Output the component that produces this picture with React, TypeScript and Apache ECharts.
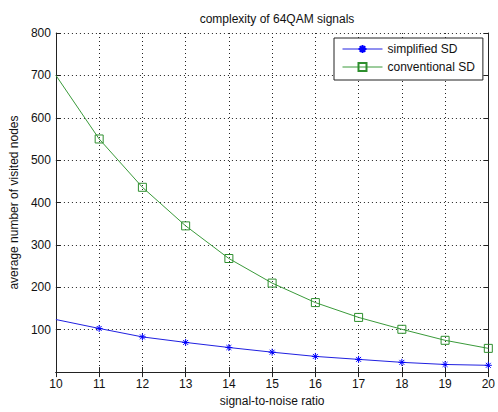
import React, { useEffect, useRef } from "react";
import * as echarts from "echarts";

const snr = [10, 11, 12, 13, 14, 15, 16, 17, 18, 19, 20];
const simplifiedSD = [124, 103, 83, 70, 58, 47, 37, 30, 23, 18, 16];
const conventionalSD = [700, 550, 436, 345, 268, 210, 164, 129, 101, 75, 56];
const yTicks = [0, 800, 100];

const FONT = "Liberation Sans, Arial, sans-serif";
const STAR = "path://M0,-5L0,5M-5,0L5,0M-3.5,-3.5L3.5,3.5M-3.5,3.5L3.5,-3.5";

export default function App() {
  const ref = useRef<HTMLDivElement>(null);
  useEffect(() => {
    const chart = echarts.init(ref.current!, null, { renderer: "svg" });
    const mk = (vals: number[]) =>
      vals.map((v, i) => (i === 0 ? { value: [snr[i], v], symbol: "none" } : { value: [snr[i], v] }));
    const tickAxisX = {
      type: "value", min: 10, max: 20, interval: 1,
      axisLine: { show: true, lineStyle: { color: "#222", width: 1 } },
      axisTick: { show: true, inside: true, length: 5, lineStyle: { color: "#222" } },
    };
    const tickAxisY = {
      type: "value", min: yTicks[0], max: yTicks[1], interval: yTicks[2],
      axisLine: { show: true, lineStyle: { color: "#222", width: 1 } },
      axisTick: { show: true, inside: true, length: 5, lineStyle: { color: "#222" } },
    };
    chart.setOption({
      animation: false,
      backgroundColor: "#fff",
      textStyle: { fontFamily: FONT },
      title: {
        text: "complexity of 64QAM signals",
        left: 272, top: 8, textAlign: "center",
        textStyle: { fontSize: 12, fontWeight: "normal", color: "#111", fontFamily: FONT },
      },
      grid: { left: 53, right: 6, top: 33, bottom: 36 },
      legend: {
        orient: "vertical",
        left: 334, top: 38,
        padding: [5, 8, 7, 8],
        itemGap: 6,
        itemWidth: 40, itemHeight: 10,
        backgroundColor: "#fff",
        borderColor: "#222", borderWidth: 1,
        lineStyle: { width: 1 },
        textStyle: { fontSize: 12, color: "#111", fontFamily: FONT },
        data: ["simplified SD", "conventional SD"],
      },
      xAxis: [
        {
          ...tickAxisX,
          position: "bottom",
          name: "signal-to-noise ratio",
          nameLocation: "middle", nameGap: 22,
          nameTextStyle: { fontSize: 12, color: "#111", fontFamily: FONT },
          axisLabel: { fontSize: 12, color: "#111", margin: 6, fontFamily: FONT },
          splitLine: { show: true, lineStyle: { color: "#222", type: [1, 3], width: 1 } },
        },
        { ...tickAxisX, position: "top", axisLabel: { show: false }, splitLine: { show: false } },
      ],
      yAxis: [
        {
          ...tickAxisY,
          position: "left",
          name: "average number of visited nodes",
          nameLocation: "middle", nameGap: 34,
          nameTextStyle: { fontSize: 12, color: "#111", fontFamily: FONT },
          axisLabel: { fontSize: 12, color: "#111", margin: 5, showMinLabel: false, fontFamily: FONT },
          splitLine: { show: true, lineStyle: { color: "#222", type: [1, 3], width: 1 } },
        },
        { ...tickAxisY, position: "right", axisLabel: { show: false }, splitLine: { show: false } },
      ],
      series: [
        {
          name: "simplified SD",
          type: "line",
          data: mk(simplifiedSD),
          symbol: STAR,
          symbolSize: 7,
          showAllSymbol: true,
          lineStyle: { color: "#2020e0", width: 1 },
          itemStyle: { color: "#0000ff", borderColor: "#0000ff", borderWidth: 1 },
          z: 3,
        },
        {
          name: "conventional SD",
          type: "line",
          data: mk(conventionalSD),
          symbol: "rect",
          symbolSize: 8,
          showAllSymbol: true,
          lineStyle: { color: "#3a9a3a", width: 1 },
          itemStyle: { color: "rgba(255,255,255,0)", borderColor: "#2e8f2e", borderWidth: 1 },
          z: 2,
        },
      ],
    });
    return () => chart.dispose();
  }, []);
  return <div ref={ref} style={{ width: 498, height: 412, position: "absolute", left: 0, top: 0 }} />;
}
